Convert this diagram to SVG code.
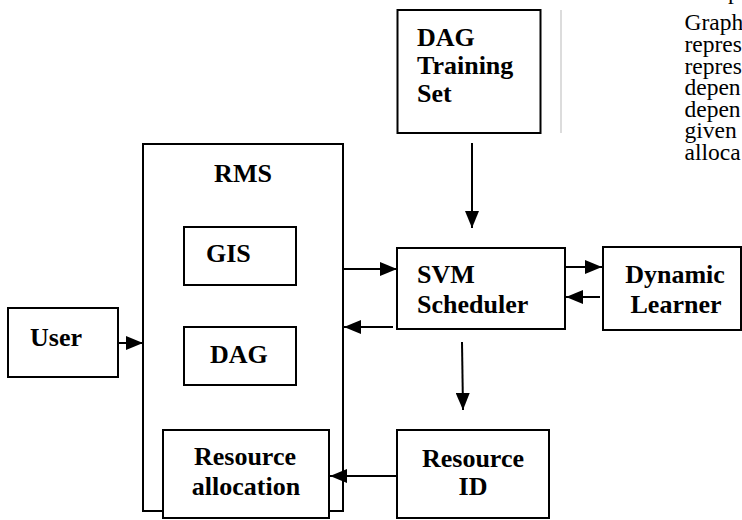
<svg xmlns="http://www.w3.org/2000/svg" width="742" height="520" viewBox="0 0 742 520">
<style>
.box{fill:#fff;stroke:#000;stroke-width:2}
.lbl{font-family:"Liberation Serif","Times New Roman",serif;font-weight:bold;font-size:26px;fill:#000}
.mid{text-anchor:middle}
.page{font-family:"Liberation Serif","Times New Roman",serif;font-size:23.5px;fill:#000}
.conn line{stroke:#000;stroke-width:2;fill:none}
</style>
<defs>
<marker id="ah" markerUnits="userSpaceOnUse" markerWidth="17" markerHeight="14" refX="17" refY="7" orient="auto">
<path d="M0,0 L17,7 L0,14 Z" fill="#000"/>
</marker>
</defs>
<rect width="742" height="520" fill="#fff"/>
<g id="page-text">
<line x1="561" y1="10" x2="561" y2="133" stroke="#d0d0d0" stroke-width="1.5"/>
<text class="page" x="728" y="-1.5">p</text>
<text class="page" x="684.5" y="30">Graph</text>
<text class="page" x="684.5" y="52">repres</text>
<text class="page" x="684.5" y="73.5">repres</text>
<text class="page" x="684.5" y="95">depen</text>
<text class="page" x="684.5" y="116.5">depen</text>
<text class="page" x="684.5" y="138">given</text>
<text class="page" x="684.5" y="159.5">alloca</text>
</g>
<g id="rms">
<rect class="box" x="143" y="144" width="200" height="367"/>
<text class="lbl mid" x="243" y="182">RMS</text>
</g>
<g id="gis">
<rect class="box" x="184" y="227" width="112" height="58"/>
<text class="lbl" x="206" y="262">GIS</text>
</g>
<g id="dag">
<rect class="box" x="184" y="327" width="112" height="58"/>
<text class="lbl" x="210" y="363">DAG</text>
</g>
<g id="resource-allocation">
<rect class="box" x="163" y="430" width="166" height="88"/>
<text class="lbl mid" x="245" y="465">Resource</text>
<text class="lbl mid" x="246" y="495">allocation</text>
</g>
<g id="user">
<rect class="box" x="8" y="308" width="110" height="69"/>
<text class="lbl" x="30" y="346">User</text>
</g>
<g id="dag-training-set">
<rect class="box" x="397.5" y="10" width="143" height="123"/>
<text class="lbl" x="417" y="46">DAG</text>
<text class="lbl" x="417" y="74">Training</text>
<text class="lbl" x="417" y="102">Set</text>
</g>
<g id="svm-scheduler">
<rect class="box" x="397" y="248" width="168" height="81"/>
<text class="lbl" x="417" y="283">SVM</text>
<text class="lbl" x="417" y="313">Scheduler</text>
</g>
<g id="dynamic-learner">
<rect class="box" x="603" y="247" width="138" height="83"/>
<text class="lbl mid" x="675" y="283">Dynamic</text>
<text class="lbl mid" x="676" y="313">Learner</text>
</g>
<g id="resource-id">
<rect class="box" x="397" y="430" width="152" height="88"/>
<text class="lbl mid" x="473" y="467">Resource</text>
<text class="lbl mid" x="473" y="495">ID</text>
</g>
<g id="connectors" class="conn">
<line x1="472" y1="143" x2="472" y2="228" marker-end="url(#ah)"/>
<line x1="343" y1="269" x2="397" y2="269" marker-end="url(#ah)"/>
<line x1="393" y1="327" x2="344" y2="327" marker-end="url(#ah)"/>
<line x1="565" y1="267" x2="602" y2="267" marker-end="url(#ah)"/>
<line x1="600" y1="297" x2="566" y2="297" marker-end="url(#ah)"/>
<line x1="462" y1="342" x2="463" y2="410" marker-end="url(#ah)"/>
<line x1="397" y1="476" x2="330" y2="476" marker-end="url(#ah)"/>
<line x1="118" y1="343" x2="143" y2="343" marker-end="url(#ah)"/>
</g>
</svg>
